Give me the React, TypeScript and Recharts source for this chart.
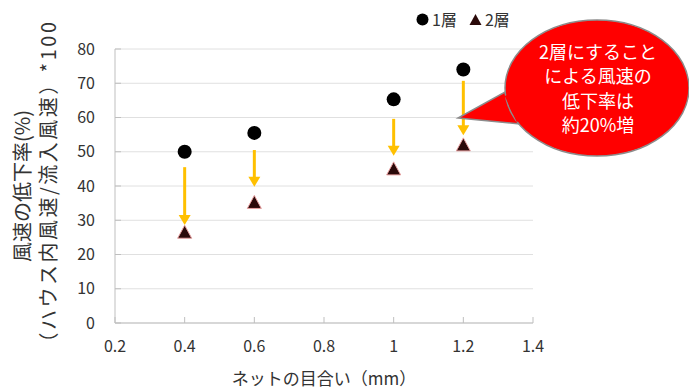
import { ScatterChart, Scatter, XAxis, YAxis, CartesianGrid, ReferenceLine } from "recharts";

const meshSizes = [0.4, 0.6, 1.0, 1.2];
const oneLayer = [50, 55.5, 65.3, 74];
const twoLayer = [26.5, 35.2, 45, 52];
const arrowFrom = [45.5, 50.5, 59.6, 70.7];
const arrowTo = [28.6, 39.8, 48.8, 54.8];
const xTicks = [0.2, 0.4, 0.6, 0.8, 1, 1.2, 1.4];
const yTicks = [0, 10, 20, 30, 40, 50, 60, 70, 80];
const calloutLines = ["2層にすること", "による風速の", "低下率は", "約20%増"];

const FONT = "'Noto Sans CJK JP', 'Noto Sans', sans-serif";
const ARROW = "#FFC000";

const series1 = meshSizes.map((x, i) => ({ x, y: oneLayer[i] }));
const series2 = meshSizes.map((x, i) => ({ x, y: twoLayer[i] }));

const Dot = (p: any) => <circle cx={p.cx} cy={p.cy} r={7} fill="#000" />;

const Tri = (p: any) => (
  <path
    d={`M${p.cx},${p.cy - 7} L${p.cx + 7},${p.cy + 6} L${p.cx - 7},${p.cy + 6} Z`}
    fill="#2b0a0a"
    stroke="#e8a0a0"
    strokeWidth={1}
  />
);

const Arrow = (p: any) => {
  const { x1, y1, x2, y2 } = p;
  return (
    <g>
      <line x1={x1} y1={y1} x2={x2} y2={y2 - 8} stroke={ARROW} strokeWidth={3} />
      <path d={`M${x2 - 6},${y2 - 10} L${x2 + 6},${y2 - 10} L${x2},${y2} Z`} fill={ARROW} />
    </g>
  );
};

const YLabel = (props: any) => {
  const vb = props.viewBox;
  const cy = vb.y + vb.height / 2;
  return (
    <g fontFamily={FONT} fontSize={20} fill="#333">
      <text x={21} y={cy} transform={`rotate(-90 21 ${cy})`} textAnchor="middle" dominantBaseline="central">
        風速の低下率(%)
      </text>
      <text
        x={47}
        y={cy}
        transform={`rotate(-90 47 ${cy})`}
        textAnchor="middle"
        dominantBaseline="central"
        letterSpacing={2.5}
      >
        （ハウス内風速/流入風速）*100
      </text>
    </g>
  );
};

export default function App() {
  return (
    <div style={{ position: "absolute", left: 0, top: 0, width: 689, height: 390, background: "#fff" }}>
      <ScatterChart width={689} height={390} margin={{ top: 49, right: 156, bottom: 37, left: 55 }}>
        <CartesianGrid horizontal vertical={false} stroke="#e0e0e0" />
        <XAxis
          type="number"
          dataKey="x"
          domain={[0.2, 1.4]}
          ticks={xTicks}
          tickFormatter={(v: number) => String(v)}
          stroke="#bfbfbf"
          tickSize={-6}
          tickMargin={24}
          height={30}
          tick={{ fill: "#333", fontSize: 16, fontFamily: FONT }}
          label={{ value: "ネットの目合い（mm）", position: "insideBottom", offset: -32, fill: "#333", fontSize: 17, fontFamily: FONT }}
        />
        <YAxis
          type="number"
          dataKey="y"
          domain={[0, 80]}
          ticks={yTicks}
          width={60}
          stroke="#bfbfbf"
          tickSize={-6}
          tickMargin={26}
          tick={{ fill: "#333", fontSize: 16, fontFamily: FONT }}
          label={<YLabel />}
        />
        {meshSizes.map((x, i) => (
          <ReferenceLine
            key={i}
            segment={[{ x, y: arrowFrom[i] }, { x, y: arrowTo[i] }]}
            shape={<Arrow />}
          />
        ))}
        <Scatter name="1層" data={series1} shape={<Dot />} isAnimationActive={false} />
        <Scatter name="2層" data={series2} shape={<Tri />} isAnimationActive={false} />
      </ScatterChart>
      <div
        style={{
          position: "absolute",
          left: 416,
          top: 7,
          display: "flex",
          gap: 12,
          fontFamily: FONT,
          fontSize: 16,
          color: "#333",
          alignItems: "center",
        }}
      >
        <span style={{ display: "flex", alignItems: "center", gap: 3 }}>
          <svg width={13} height={13}><circle cx={6.5} cy={6.5} r={6} fill="#000" /></svg>1層
        </span>
        <span style={{ display: "flex", alignItems: "center", gap: 3 }}>
          <svg width={13} height={13}><path d="M6.5,1 L12.5,12 L0.5,12 Z" fill="#2b0a0a" /></svg>2層
        </span>
      </div>
      <svg width={689} height={390} style={{ position: "absolute", left: 0, top: 0, pointerEvents: "none" }}>
        <path d="M520,124 L458,118 L505,92 Z" fill="#ff0000" stroke="#8c8c8c" strokeWidth={1.5} />
        <ellipse cx={597} cy={88} rx={92} ry={68} fill="#ff0000" stroke="#8c8c8c" strokeWidth={1.5} />
        <path d="M519,121 L507,95" stroke="#ff0000" strokeWidth={5} />
        <g fontFamily={FONT} fontSize={18} fill="#fff" textAnchor="middle">
          {calloutLines.map((t, i) => (
            <text key={i} x={598} y={59 + i * 24.3}>{t}</text>
          ))}
        </g>
      </svg>
    </div>
  );
}
